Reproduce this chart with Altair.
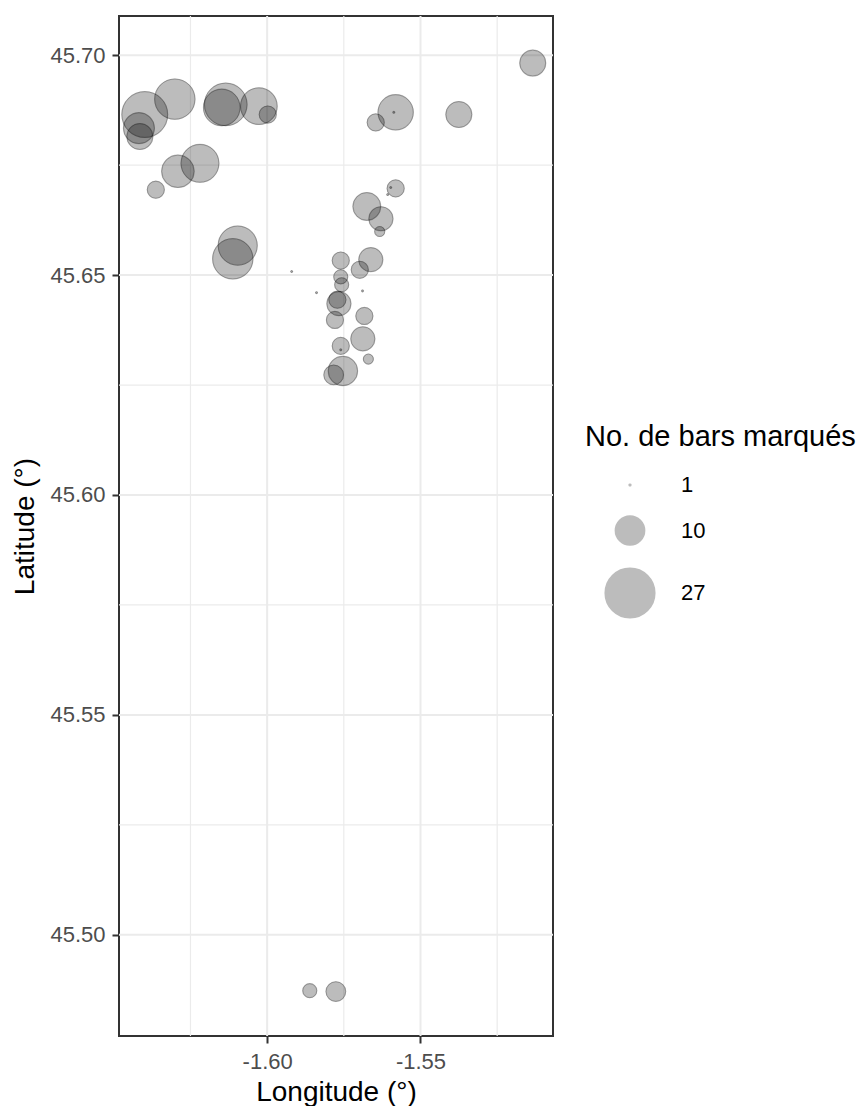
import altair as alt
import pandas as pd

# Positions (degrees) and number of tagged bass per release site
lon = [-1.6399, -1.6418, -1.6415, -1.6301, -1.6135, -1.6148, -1.6027, -1.5998,
       -1.6291, -1.6219, -1.6363, -1.6096, -1.6112, -1.5920, -1.5675, -1.5629,
       -1.5633, -1.5581, -1.5597, -1.5607, -1.5760, -1.5662, -1.5698, -1.5760,
       -1.5757, -1.5839, -1.5689, -1.5771, -1.5766, -1.5779, -1.5683, -1.5688,
       -1.5760, -1.5760, -1.5670, -1.5753, -1.5783, -1.5134, -1.5375, -1.5581,
       -1.5587, -1.5646, -1.5861, -1.5776]
lat = [45.6865, 45.6834, 45.6815, 45.6900, 45.6888, 45.6881, 45.6884, 45.6865,
       45.6736, 45.6754, 45.6694, 45.6567, 45.6537, 45.6508, 45.6656, 45.6628,
       45.6599, 45.6697, 45.6699, 45.6683, 45.6533, 45.6535, 45.6512, 45.6496,
       45.6478, 45.6460, 45.6464, 45.6444, 45.6435, 45.6398, 45.6407, 45.6355,
       45.6339, 45.6330, 45.6309, 45.6282, 45.6273, 45.6982, 45.6865, 45.6870,
       45.6870, 45.6847, 45.4873, 45.4871]
n_bars = [23, 11, 8, 18, 20, 15, 15, 4,
          12, 16, 4, 17, 18, 1, 9, 7,
          2, 4, 1, 1, 4, 7, 4, 3,
          3, 1, 1, 4, 7, 4, 4, 7,
          4, 1, 2, 10, 5, 8, 8, 14,
          1, 4, 3, 5]

x_ticks = [-1.60, -1.55]
x_minor = [-1.625, -1.575, -1.525]
y_ticks = [45.50, 45.55, 45.60, 45.65, 45.70]
y_minor = [45.525, 45.575, 45.625, 45.675]
legend_values = [1, 10, 27]

x_domain = [-1.6483, -1.5068]
y_domain = [45.4770, 45.7089]

df = pd.DataFrame({"lon": lon, "lat": lat, "n": n_bars})

xs = alt.Scale(domain=x_domain, nice=False, zero=False)
ys = alt.Scale(domain=y_domain, nice=False, zero=False)
size_scale = alt.Scale(domain=[1, 27], range=[3, 2463])

x_axis = alt.Axis(values=x_ticks, format=".2f", labelPadding=8, titlePadding=6,
                  labelExpr="replace(datum.label, '\u2212', '-')")
y_axis = alt.Axis(values=y_ticks, format=".2f", labelPadding=7, titlePadding=10)
X_TITLE = "Longitude (°)"
Y_TITLE = "Latitude (°)"

GRID = "#EBEBEB"

def vgrid(vals, w):
    return alt.Chart(pd.DataFrame({"lon": vals})).mark_rule(
        color=GRID, strokeWidth=w
    ).encode(x=alt.X("lon:Q", scale=xs, axis=x_axis, title=X_TITLE))

def hgrid(vals, w):
    return alt.Chart(pd.DataFrame({"lat": vals})).mark_rule(
        color=GRID, strokeWidth=w
    ).encode(y=alt.Y("lat:Q", scale=ys, axis=y_axis, title=Y_TITLE))

legend = alt.Legend(
    values=legend_values, orient="none", legendX=466, legendY=407,
    titleFontSize=29, labelFontSize=22, titleFontWeight="normal",
    titleColor="black", labelColor="black", titleLimit=500,
    titleFont="Liberation Sans", labelFont="Liberation Sans",
    titlePadding=22, rowPadding=16, symbolOffset=19, labelOffset=25,
    symbolType="circle",
)

fills = alt.Chart(df).mark_circle(
    fill="black", stroke="black", strokeWidth=1.3, opacity=0.26
).encode(
    x=alt.X("lon:Q", scale=xs, title=X_TITLE, axis=x_axis),
    y=alt.Y("lat:Q", scale=ys, title=Y_TITLE, axis=y_axis),
    size=alt.Size("n:Q", scale=size_scale,
                  title="No. de bars marqués", legend=legend),
)

outlines = alt.Chart(df).mark_point(
    shape="circle", filled=False, stroke="black", strokeOpacity=0.35,
    strokeWidth=1
).encode(
    x=alt.X("lon:Q", scale=xs, title=X_TITLE, axis=x_axis),
    y=alt.Y("lat:Q", scale=ys, title=Y_TITLE, axis=y_axis),
    size=alt.Size("n:Q", scale=size_scale, legend=None),
)

chart = alt.layer(
    vgrid(x_minor, 1.2), hgrid(y_minor, 1.2),
    vgrid(x_ticks, 2), hgrid(y_ticks, 2),
    fills, outlines
).properties(
    width=434, height=1020,
    padding={"left": 3, "top": 7, "right": 0, "bottom": 0},
    background="white"
).configure_view(
    stroke="#333333", strokeWidth=2
).configure_axis(
    grid=False, domain=False,
    labelFont="Liberation Sans", labelFontSize=22, labelColor="#4D4D4D",
    titleFont="Liberation Sans", titleFontSize=28, titleColor="black",
    titleFontWeight="normal",
    tickColor="#333333", tickWidth=2, tickSize=7
)

chart.save("out.html", embed_options={"renderer": "svg", "actions": False})
